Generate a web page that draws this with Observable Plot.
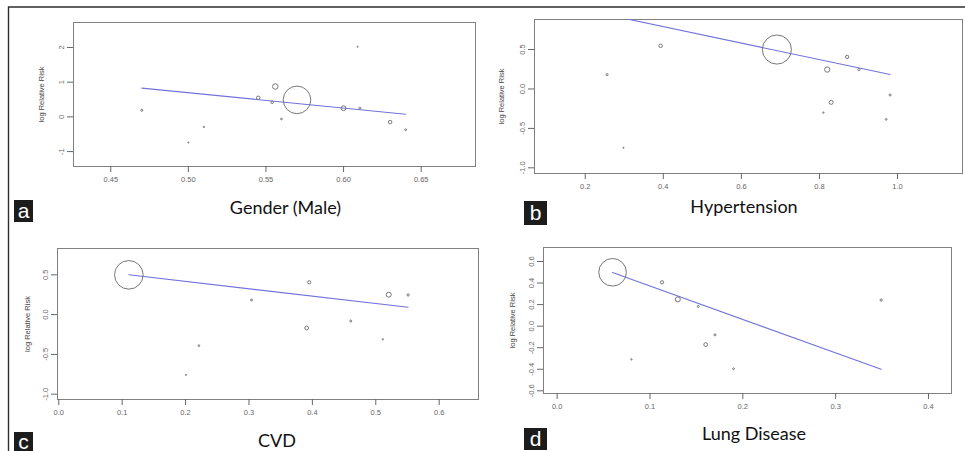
<!DOCTYPE html>
<html><head><meta charset="utf-8">
<script src="https://cdn.jsdelivr.net/npm/d3@7"></script>
<script src="https://cdn.jsdelivr.net/npm/@observablehq/plot@0.6"></script>
<style>
body{margin:0;background:#fff}
#wrap{position:relative;width:965px;height:451px;overflow:hidden;background:#fff}
.panel{position:absolute}
.panel svg{overflow:visible}
</style></head><body><div id="wrap"></div>
<script>
// ---------- data ----------
const panelIds = ["a", "b", "c", "d"];
const panelTitles = ["Gender (Male)", "Hypertension", "CVD", "Lung Disease"];
const yAxisTitle = "log Relative Risk";

// panel a : Gender (Male)
const xA      = [0.47, 0.50, 0.51, 0.545, 0.556, 0.554, 0.56, 0.57, 0.600, 0.6105, 0.609, 0.63, 0.64];
const logRRA  = [0.19, -0.74, -0.29, 0.55, 0.875, 0.42, -0.06, 0.49, 0.25, 0.25, 2.02, -0.15, -0.37];
const weightA = [4, 2.4, 2.8, 7, 11, 5, 3.5, 55, 9.5, 4, 2.4, 7, 3.5];

// panel b : Hypertension
const xB      = [0.256, 0.298, 0.393, 0.691, 0.82, 0.871, 0.901, 0.81, 0.83, 0.971, 0.981];
const logRRB  = [0.182, -0.746, 0.547, 0.50, 0.246, 0.407, 0.246, -0.30, -0.17, -0.386, -0.076];
const weightB = [4, 2.4, 7, 58, 10.5, 6.5, 4.5, 2.8, 8, 3.5, 4];

// panel c : CVD
const xC      = [0.1105, 0.304, 0.221, 0.2005, 0.395, 0.391, 0.4605, 0.511, 0.5205, 0.551];
const logRRC  = [0.50, 0.184, -0.39, -0.758, 0.406, -0.168, -0.08, -0.31, 0.251, 0.247];
const weightC = [57, 4, 3.5, 2.4, 6.5, 7.5, 4, 2.8, 10, 4.5];

// panel d : Lung Disease
const xD      = [0.0597, 0.113, 0.13, 0.152, 0.08, 0.16, 0.17, 0.19, 0.349];
const logRRD  = [0.50, 0.407, 0.249, 0.183, -0.308, -0.171, -0.081, -0.395, 0.242];
const weightD = [55, 6.5, 10, 4, 2.8, 7.5, 4, 3.5, 4.5];

// meta-regression fits (intercept, slope) per panel
const interceptByPanel = [2.912, 1.209, 0.6036, 0.683];
const slopeByPanel     = [-4.43, -1.046, -0.9286, -3.104];

// tick values and labels
const xTicksA = [0.45, 0.50, 0.55, 0.60, 0.65];
const xTickLabelsA = ["0.45", "0.50", "0.55", "0.60", "0.65"];
const yTicksA = [-1, 0, 1, 2];
const yTickLabelsA = ["-1", "0", "1", "2"];

const xTicksB = [0.2, 0.4, 0.6, 0.8, 1.0];
const xTickLabelsB = ["0.2", "0.4", "0.6", "0.8", "1.0"];
const yTicksB = [-1.0, -0.5, 0.0, 0.5];
const yTickLabelsB = ["-1.0", "-0.5", "0.0", "0.5"];

const xTicksC = [0.0, 0.1, 0.2, 0.3, 0.4, 0.5, 0.6];
const xTickLabelsC = ["0.0", "0.1", "0.2", "0.3", "0.4", "0.5", "0.6"];
const yTicksC = [-1.0, -0.5, 0.0, 0.5];
const yTickLabelsC = ["-1.0", "-0.5", "0.0", "0.5"];

const xTicksD = [0.0, 0.1, 0.2, 0.3, 0.4];
const xTickLabelsD = ["0.0", "0.1", "0.2", "0.3", "0.4"];
const yTicksD = [-0.6, -0.4, -0.2, 0.0, 0.2, 0.4, 0.6];
const yTickLabelsD = ["-0.6", "-0.4", "-0.2", "0.0", "0.2", "0.4", "0.6"];

// ---------- layout (page pixels) ----------
const layout = [
  {left: 10, top: 8, width: 470, height: 185, box: [73, 22, 475, 166],
   xDomain: [0.426, 0.685], yDomain: [-1.43, 2.72], yTitleDx: -32,
   letterBox: [14, 200, 19, 22], titleX: 285.5, titleY: 214},
  {left: 484, top: 8, width: 481, height: 190, box: [534, 19, 962, 173],
   xDomain: [0.07, 1.1665], yDomain: [-1.072, 0.881], yTitleDx: -33,
   letterBox: [524, 201, 23, 24], titleX: 744, titleY: 212.5},
  {left: 10, top: 232, width: 470, height: 190, box: [57, 248, 478, 399],
   xDomain: [-0.002, 0.662], yDomain: [-1.067, 0.831], yTitleDx: -30,
   letterBox: [14, 432, 19, 19], titleX: 277, titleY: 446.5},
  {left: 484, top: 232, width: 481, height: 185, box: [543, 247, 951, 393],
   xDomain: [-0.0147, 0.4248], yDomain: [-0.625, 0.73], yTitleDx: -31,
   letterBox: [524, 428, 23, 22], titleX: 754, titleY: 440}
];

const series = [
  [xA, logRRA, weightA, xTicksA, xTickLabelsA, yTicksA, yTickLabelsA],
  [xB, logRRB, weightB, xTicksB, xTickLabelsB, yTicksB, yTickLabelsB],
  [xC, logRRC, weightC, xTicksC, xTickLabelsC, yTicksC, yTickLabelsC],
  [xD, logRRD, weightD, xTicksD, xTickLabelsD, yTicksD, yTickLabelsD]
];

const wrap = document.getElementById("wrap");

function makePanel(i) {
  const cfg = layout[i];
  const [xs, ys, ws, xt, xtl, yt, ytl] = series[i];
  const pts = xs.map((x, k) => ({x, y: ys[k], w: ws[k]}));
  const xmin = d3.min(xs), xmax = d3.max(xs);
  const fit = [xmin, xmax].map(x => ({x, y: interceptByPanel[i] + slopeByPanel[i] * x}));
  const chart = Plot.plot({
    width: cfg.width, height: cfg.height,
    marginLeft: cfg.box[0] - cfg.left,
    marginTop: cfg.box[1] - cfg.top,
    marginRight: cfg.left + cfg.width - cfg.box[2],
    marginBottom: cfg.top + cfg.height - cfg.box[3],
    x: {domain: cfg.xDomain},
    y: {domain: cfg.yDomain},
    r: {type: "linear", domain: [0, 55], range: [0, 13.8]},
    style: {fontFamily: "'Liberation Sans', Arial, sans-serif", fontSize: "7.5px", color: "#555", background: "transparent"},
    marks: [
      Plot.frame({stroke: "#808080", strokeWidth: 1}),
      Plot.axisX({ticks: xt, tickFormat: d => xtl[xt.indexOf(d)], tickSize: 6, tickPadding: 4, label: null, color: "#666"}),
      Plot.axisY({ticks: yt, tickFormat: d => ytl[yt.indexOf(d)], tickSize: 6, tickPadding: 4, tickRotate: -90, label: null, color: "#666"}),
      Plot.text([yAxisTitle], {frameAnchor: "left", textAnchor: "middle", rotate: -90, dx: cfg.yTitleDx, text: d => d, fill: "#444", fontSize: 7.5}),
      Plot.line(fit, {x: "x", y: "y", stroke: "#7272dc", strokeWidth: 1.1, clip: true}),
      Plot.dot(pts, {x: "x", y: "y", r: "w", stroke: "#777", fill: "none", strokeWidth: 1})
    ]
  });
  const div = document.createElement("div");
  div.className = "panel";
  div.style.left = cfg.left + "px";
  div.style.top = cfg.top + "px";
  div.appendChild(chart);
  wrap.appendChild(div);
}
panelIds.forEach((id, i) => makePanel(i));

// overlay: outer frame, letter boxes, titles
const ns = "http://www.w3.org/2000/svg";
const ov = document.createElementNS(ns, "svg");
ov.setAttribute("width", 965); ov.setAttribute("height", 451);
ov.style.position = "absolute"; ov.style.left = "0"; ov.style.top = "0";
function el(tag, attrs, txt) {
  const e = document.createElementNS(ns, tag);
  for (const k in attrs) e.setAttribute(k, attrs[k]);
  if (txt != null) e.textContent = txt;
  ov.appendChild(e);
  return e;
}
el("path", {d: "M8.5,451 V7 H965", fill: "none", stroke: "#2e2e2e", "stroke-width": 1.4});
panelIds.forEach((id, i) => {
  const cfg = layout[i];
  const [bx, by, bw, bh] = cfg.letterBox;
  el("rect", {x: bx, y: by, width: bw, height: bh, fill: "#1c1c1c"});
  el("text", {x: bx + bw / 2, y: by + bh / 2 + 7, "text-anchor": "middle", fill: "#fff",
    "font-family": "'Liberation Sans', Arial, sans-serif", "font-size": 21}, id);
  el("text", {x: cfg.titleX, y: cfg.titleY, "text-anchor": "middle", fill: "#111",
    "font-family": "Lato, 'Open Sans', sans-serif", "font-size": 18}, panelTitles[i]);
});
wrap.appendChild(ov);
</script></body></html>
